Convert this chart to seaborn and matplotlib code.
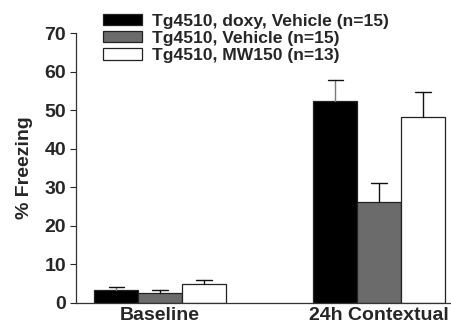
import pandas as pd
import matplotlib.pyplot as plt
import seaborn as sns

# values
phases = ["Baseline", "24h Contextual"]
groups = ["Tg4510, doxy, Vehicle (n=15)", "Tg4510, Vehicle (n=15)", "Tg4510, MW150 (n=13)"]
freezing = {
    "Tg4510, doxy, Vehicle (n=15)": [3.3, 52.5],
    "Tg4510, Vehicle (n=15)": [2.6, 26.2],
    "Tg4510, MW150 (n=13)": [4.9, 48.1],
}
sem = {
    "Tg4510, doxy, Vehicle (n=15)": [0.8, 5.2],
    "Tg4510, Vehicle (n=15)": [0.7, 4.8],
    "Tg4510, MW150 (n=13)": [1.0, 6.5],
}
colors = ["#000000", "#6b6b6b", "#ffffff"]

rows = []
for g in groups:
    for i, p in enumerate(phases):
        rows.append({"phase": p, "group": g, "freezing": freezing[g][i], "sem": sem[g][i]})
df = pd.DataFrame(rows)

sns.set_style("ticks")
plt.rcParams["font.family"] = ["Liberation Sans", "DejaVu Sans"]
plt.rcParams["font.weight"] = "bold"

fig = plt.figure(figsize=(4.52, 3.25), dpi=100)
ax = fig.add_axes([0.168, 0.069, 0.832, 0.829])

sns.barplot(data=df, x="phase", y="freezing", hue="group", order=phases,
            hue_order=groups, palette=colors, width=0.6, errorbar=None,
            edgecolor="#222222", linewidth=0.9, saturation=1, ax=ax)

# one-sided (upper) error bars on each bar
for gi, g in enumerate(groups):
    bars = ax.containers[gi]
    for pi, bar in enumerate(bars):
        xc = bar.get_x() + bar.get_width() / 2
        h = bar.get_height()
        e = sem[g][pi]
        stem = "#7a7a7a" if gi == 0 else "#111111"
        ax.plot([xc, xc], [h, h + e], color=stem, lw=1.0, zorder=1)
        ax.plot([xc - 0.035, xc + 0.035], [h + e, h + e], color="#111111", lw=1.0, zorder=1)

ax.set_xlim(-0.384, 1.333)
ax.set_ylim(0, 70)
ax.set_yticks(range(0, 71, 10))
ax.set_xlabel("")
ax.set_ylabel("% Freezing", fontsize=14, fontweight="bold", labelpad=8)
ax.tick_params(axis="y", labelsize=14, length=4, width=0.8, direction="out", pad=3)
ax.tick_params(axis="x", labelsize=14, length=0, pad=3)
for lab in ax.get_xticklabels() + ax.get_yticklabels():
    lab.set_fontweight("bold")
sns.despine(ax=ax)
for s in ["left", "bottom"]:
    ax.spines[s].set_linewidth(0.9)
    ax.spines[s].set_color("#333333")

handles, labels = ax.get_legend_handles_labels()
ax.get_legend().remove()
fig.legend(handles, labels, loc="upper left", bbox_to_anchor=(103 / 452, 1 - 14 / 325),
           frameon=False, prop={"weight": "bold", "size": 12.6},
           borderpad=0, borderaxespad=0, handlelength=2.25, handleheight=0.6,
           handletextpad=0.55, labelspacing=0.12)

fig.savefig("out.png", dpi=100)
